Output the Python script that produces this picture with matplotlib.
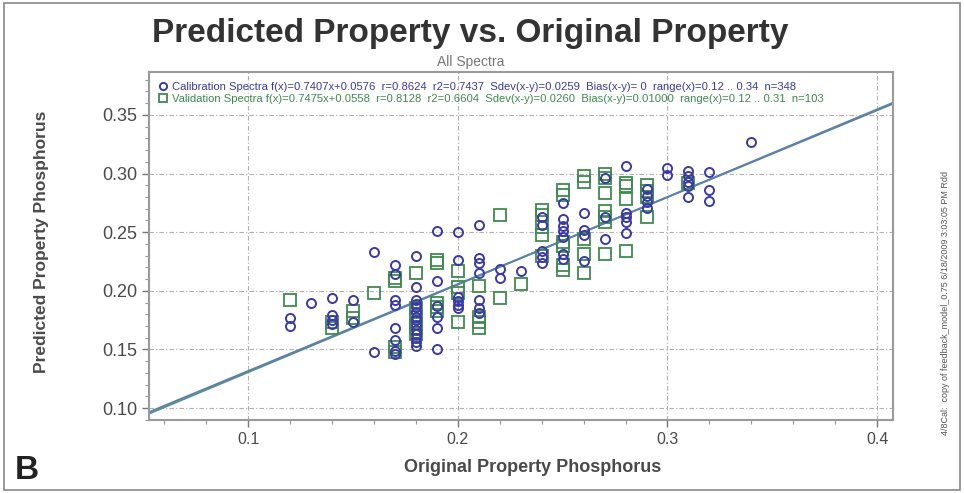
import numpy as np
import matplotlib
matplotlib.use("Agg")
import matplotlib.pyplot as plt
from matplotlib.ticker import MultipleLocator

plt.rcParams['font.family'] = ['Liberation Sans', 'DejaVu Sans']

# calibration spectra (blue)
x_cal = [0.12, 0.12,
         0.13,
         0.14, 0.14, 0.14, 0.14,
         0.15, 0.15,
         0.16, 0.16,
         0.17, 0.17, 0.17, 0.17, 0.17, 0.17, 0.17, 0.17,
         0.18, 0.18, 0.18, 0.18, 0.18, 0.18, 0.18, 0.18, 0.18, 0.18, 0.18, 0.18, 0.18, 0.18,
         0.19, 0.19, 0.19, 0.19, 0.19, 0.19,
         0.20, 0.20, 0.20, 0.20, 0.20, 0.20,
         0.21, 0.21, 0.21, 0.21, 0.21, 0.21, 0.21,
         0.22, 0.22,
         0.23,
         0.24, 0.24, 0.24, 0.24, 0.24,
         0.25, 0.25, 0.25, 0.25, 0.25, 0.25, 0.25,
         0.26, 0.26, 0.26, 0.26,
         0.27, 0.27, 0.27,
         0.28, 0.28, 0.28, 0.28, 0.28,
         0.29, 0.29, 0.29, 0.29,
         0.30, 0.30,
         0.31, 0.31, 0.31, 0.31, 0.31,
         0.32, 0.32, 0.32,
         0.34]
y_cal = [0.177, 0.170,
         0.190,
         0.194, 0.179, 0.175, 0.172,
         0.192, 0.173,
         0.233, 0.148,
         0.222, 0.214, 0.192, 0.188, 0.168, 0.158, 0.149, 0.146,
         0.230, 0.203, 0.192, 0.189, 0.186, 0.182, 0.178, 0.175, 0.171, 0.167, 0.163, 0.160, 0.156, 0.153,
         0.251, 0.208, 0.187, 0.178, 0.168, 0.150,
         0.250, 0.226, 0.195, 0.191, 0.188, 0.185,
         0.256, 0.228, 0.224, 0.215, 0.192, 0.185, 0.181,
         0.219, 0.211,
         0.217,
         0.263, 0.256, 0.234, 0.229, 0.224,
         0.275, 0.261, 0.255, 0.251, 0.246, 0.231, 0.227,
         0.266, 0.252, 0.248, 0.225,
         0.296, 0.263, 0.244,
         0.306, 0.266, 0.263, 0.259, 0.249,
         0.287, 0.281, 0.276, 0.271,
         0.305, 0.299,
         0.302, 0.298, 0.293, 0.289, 0.280,
         0.301, 0.286, 0.277,
         0.327]

# validation spectra (green)
x_val = [0.12,
         0.14, 0.14,
         0.15, 0.15,
         0.16,
         0.17, 0.17, 0.17, 0.17,
         0.18, 0.18, 0.18, 0.18, 0.18, 0.18,
         0.19, 0.19, 0.19, 0.19, 0.19,
         0.20, 0.20, 0.20, 0.20,
         0.21, 0.21, 0.21, 0.21,
         0.22, 0.22,
         0.23,
         0.24, 0.24, 0.24, 0.24, 0.24,
         0.25, 0.25, 0.25, 0.25, 0.25, 0.25,
         0.26, 0.26, 0.26, 0.26, 0.26,
         0.27, 0.27, 0.27, 0.27, 0.27, 0.27, 0.27,
         0.28, 0.28, 0.28, 0.28,
         0.29, 0.29, 0.29, 0.29,
         0.31]
y_val = [0.192,
         0.168, 0.173,
         0.183, 0.177,
         0.198,
         0.211, 0.208, 0.152, 0.148,
         0.215, 0.185, 0.178, 0.172, 0.168, 0.163,
         0.226, 0.224, 0.190, 0.186, 0.183,
         0.217, 0.203, 0.198, 0.173,
         0.204, 0.178, 0.173, 0.168,
         0.265, 0.194,
         0.206,
         0.269, 0.265, 0.254, 0.248, 0.230,
         0.286, 0.282, 0.242, 0.238, 0.222, 0.218,
         0.298, 0.293, 0.244, 0.231, 0.215,
         0.300, 0.296, 0.283, 0.268, 0.263, 0.259, 0.231,
         0.292, 0.289, 0.278, 0.234,
         0.290, 0.285, 0.280, 0.263,
         0.292]

cal_fit = (0.7407, 0.0576)
val_fit = (0.7475, 0.0558)

cal_label = ("Calibration Spectra f(x)=0.7407x+0.0576  r=0.8624  r2=0.7437  "
             "Sdev(x-y)=0.0259  Bias(x-y)= 0  range(x)=0.12 .. 0.34  n=348")
val_label = ("Validation Spectra f(x)=0.7475x+0.0558  r=0.8128  r2=0.6604  "
             "Sdev(x-y)=0.0260  Bias(x-y)=0.01000  range(x)=0.12 .. 0.31  n=103")

blue = '#3a3aa8'
green = '#3f8a4e'
grey_txt = '#4a4a4a'

fig = plt.figure(figsize=(9.64, 4.93), dpi=100)
ax = fig.add_axes([0.1546, 0.148, 0.7718, 0.706])

xlim = (0.0527, 0.4076)
ylim = (0.0898, 0.3866)
ax.set_xlim(xlim)
ax.set_ylim(ylim)

xs = np.linspace(xlim[0], xlim[1], 50)
ax.plot(xs, val_fit[0]*xs + val_fit[1], color='#5a8f88', lw=1.3, zorder=2)
ax.plot(xs, cal_fit[0]*xs + cal_fit[1], color='#5b7fb0', lw=1.3, zorder=2)

ax.plot(x_val, y_val, 's', ms=8, mfc='none', mec=green, mew=1.3, zorder=3, label=val_label)
ax.plot(x_cal, y_cal, 'o', ms=6.5, mfc='none', mec=blue, mew=1.4, zorder=4, label=cal_label)

ax.xaxis.set_minor_locator(MultipleLocator(0.02))
ax.yaxis.set_minor_locator(MultipleLocator(0.01))
ax.set_xticks([0.1, 0.2, 0.3, 0.4])
ax.set_xticklabels(['0.1', '0.2', '0.3', '0.4'])
ax.set_yticks([0.10, 0.15, 0.20, 0.25, 0.30, 0.35])
ax.set_yticklabels(['0.10', '0.15', '0.20', '0.25', '0.30', '0.35'])
ax.tick_params(axis='both', which='major', labelsize=13, colors='#777777',
               labelcolor=grey_txt, length=5, width=1)
ax.tick_params(axis='x', labelsize=11.5)
ax.tick_params(axis='both', which='minor', length=3, width=0.8, colors='#999999')

ax.grid(True, which='major', color='#b0b0b0', linestyle=(0, (4, 2, 1, 2)), lw=0.8)
for s in ax.spines.values():
    s.set_color('#9a9a9a')
    s.set_linewidth(1.5)

handles, labels = ax.get_legend_handles_labels()
leg = ax.legend(handles[::-1], labels[::-1], loc='upper left', bbox_to_anchor=(0.0, 1.0),
                frameon=False, fontsize=8.1, handlelength=0.8, handletextpad=0.4,
                labelspacing=0.25, borderaxespad=0.45, markerscale=0.8)
for t, c in zip(leg.get_texts(), [blue, green]):
    t.set_color(c)

fig.text(0.488, 0.932, 'Predicted Property vs. Original Property', ha='center', va='center',
         fontsize=24, fontweight='bold', color='#333333')
fig.text(0.488, 0.874, 'All Spectra', ha='center', va='center', fontsize=10, color='#777777')
fig.text(0.043, 0.51, 'Predicted Property Phosphorus', rotation=90, ha='center', va='center',
         fontsize=12.5, fontweight='bold', color=grey_txt)
fig.text(0.553, 0.052, 'Original Property Phosphorus', ha='center', va='center',
         fontsize=13, fontweight='bold', color=grey_txt)
fig.text(0.028, 0.045, 'B', ha='center', va='center', fontsize=24, fontweight='bold', color='#222222')
fig.text(0.981, 0.385, '4/8Cal:  copy of feedback_model_0.75 6/18/2009 3:03:05 PM Rdd',
         rotation=90, ha='center', va='center', fontsize=6.5, color='#555555')

fig.patches.append(plt.Rectangle((0.004, 0.006), 0.992, 0.988, transform=fig.transFigure,
                                 fill=False, edgecolor='#888888', lw=1.2))

fig.savefig('out.png', dpi=100)
